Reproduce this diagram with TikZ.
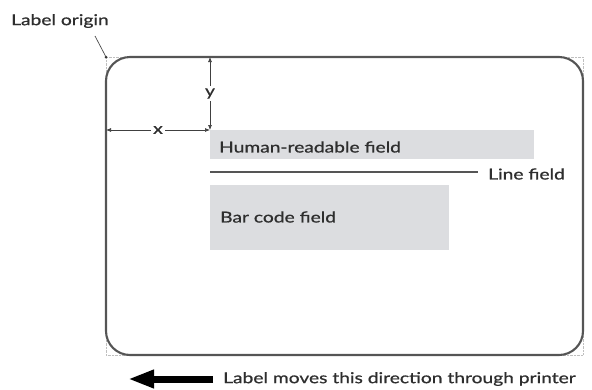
\documentclass[tikz,border=0pt]{standalone}
\usepackage{fontspec}
\setmainfont{Lato}[FakeStretch=1.28,FakeBold=0.8]
\usetikzlibrary{arrows.meta}
\definecolor{fieldgray}{HTML}{DCDDE0}
\definecolor{linegray}{HTML}{555555}
\begin{document}
\begin{tikzpicture}[x=1pt,y=-1pt,
  txt/.style={font=\fontsize{15}{17}\selectfont, text=black!82, inner sep=0pt},
  dim/.style={draw=black!75, line width=0.7pt, {Latex[length=5pt,width=4pt]}-{Latex[length=5pt,width=4pt]}},
  field/.style={fill=fieldgray, draw=none}]
\useasboundingbox (0,0) rectangle (592,389);
% label outline
\draw[black!25, densely dotted, line width=0.4pt] (106,57) rectangle (583,355);
\draw[linegray, line width=2.1pt, rounded corners=24pt] (106,57) rectangle (583,355);
\coordinate (orig) at (106,57);
\fill[black!80] (orig) circle (1.5pt);
\node[txt, anchor=west] (lo) at (11,21) {Label origin};
\draw[black!70, line width=0.7pt] (95,36) -- (orig);
% dimensions
\coordinate (ytop) at (210,57);
\coordinate (fieldtl) at (210,130);
\coordinate (xleft) at (106,130);
\draw[dim] (ytop) -- node[fill=white, txt, inner sep=2pt] (ylab) {y} (fieldtl);
\draw[dim] (xleft) -- node[fill=white, txt, inner sep=2pt] (xlab) {x} (fieldtl);
% fields
\fill[field] (210,130) rectangle (534,159);
\node[txt, anchor=west] (hr) at (219,147) {Human-readable field};
\coordinate (lfA) at (210,172);
\coordinate (lfB) at (478,172);
\draw[linegray, line width=2pt] (lfA) -- (lfB);
\node[txt, anchor=west] (lf) at (488,174) {Line field};
\fill[field] (210,185) rectangle (449,250);
\node[txt, anchor=west] (bc) at (220,217) {Bar code field};
% bottom arrow
\node[txt, anchor=west] (mv) at (223,379) {Label moves this direction through printer};
\coordinate (arrEnd) at (128,379);
\draw[black, line width=7pt, -{Triangle[length=26pt,width=17pt]}] (213,379) -- (arrEnd);
\end{tikzpicture}
\end{document}
